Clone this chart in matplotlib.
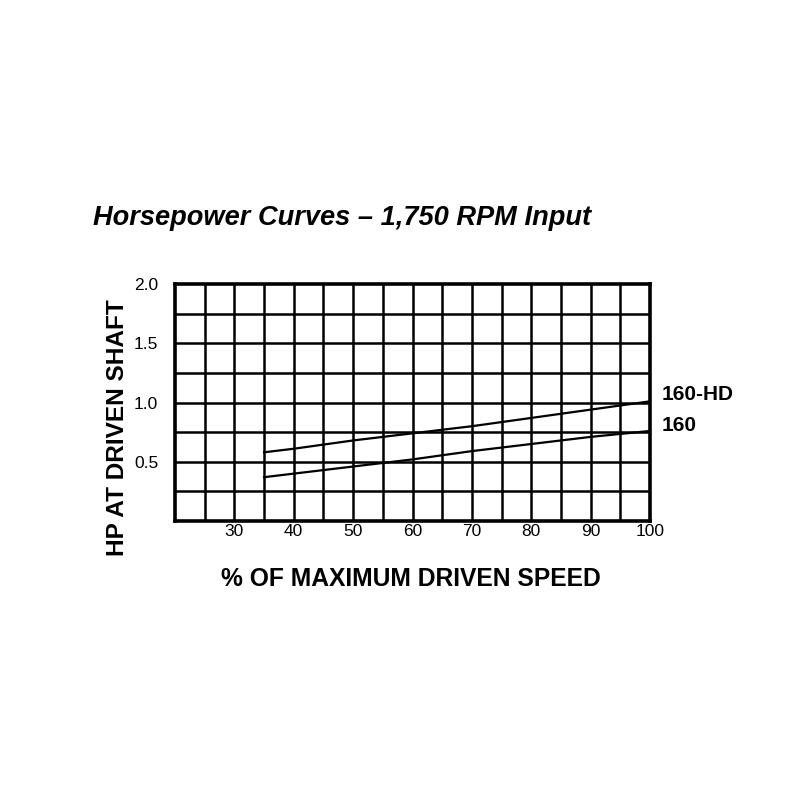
import numpy as np
import matplotlib
matplotlib.use("Agg")
import matplotlib.pyplot as plt

# speed (% of max) vs HP at driven shaft
speed = [35, 40, 50, 60, 70, 80, 90, 100]
hp_160hd = [0.58, 0.61, 0.68, 0.74, 0.80, 0.87, 0.94, 1.01]
hp_160 = [0.37, 0.40, 0.46, 0.52, 0.59, 0.65, 0.71, 0.76]
series_names = ["160-HD", "160"]

x_ticks = [30, 40, 50, 60, 70, 80, 90, 100]
y_ticks = [0.5, 1.0, 1.5, 2.0]

plt.rcParams['font.family'] = ['Liberation Sans', 'DejaVu Sans']

fig = plt.figure(figsize=(8, 8), dpi=100)
ax = fig.add_axes([0.21875, 0.3487, 0.59375, 0.2963])

ax.plot(speed, hp_160hd, color='black', lw=1.6)
ax.plot(speed, hp_160, color='black', lw=1.6)

ax.set_xlim(20, 100)
ax.set_ylim(0, 2.0)

# grid every 5 % and every 0.25 hp
for gx in np.arange(25, 100, 5):
    ax.axvline(gx, color='black', lw=1.8, zorder=0)
for gy in np.arange(0.25, 2.0, 0.25):
    ax.axhline(gy, color='black', lw=1.8, zorder=0)

for s in ax.spines.values():
    s.set_linewidth(2.6)

ax.set_xticks(x_ticks)
ax.set_xticklabels([str(v) for v in x_ticks])
ax.set_yticks(y_ticks)
ax.set_yticklabels(["%.1f" % v for v in y_ticks])
ax.tick_params(length=0, labelsize=12.5, pad=2)
ax.tick_params(axis='y', pad=12)

ax.text(102, 1.07, series_names[0], fontsize=15, fontweight='bold',
        va='center', ha='left', clip_on=False)
ax.text(102, 0.81, series_names[1], fontsize=15, fontweight='bold',
        va='center', ha='left', clip_on=False)

fig.text(411 / 800, 1 - 579 / 800, "% OF MAXIMUM DRIVEN SPEED", fontsize=17.7,
         fontweight='bold', ha='center', va='center')
fig.text(118 / 800, 1 - 428 / 800, "HP AT DRIVEN SHAFT", fontsize=17.6,
         fontweight='bold', ha='center', va='center', rotation=90)

fig.text(0.116, 0.727, "Horsepower Curves \u2013 1,750 RPM Input", fontsize=19.6,
         fontweight='bold', fontstyle='italic', ha='left', va='center')

fig.savefig("out.png", dpi=100, facecolor='white')
